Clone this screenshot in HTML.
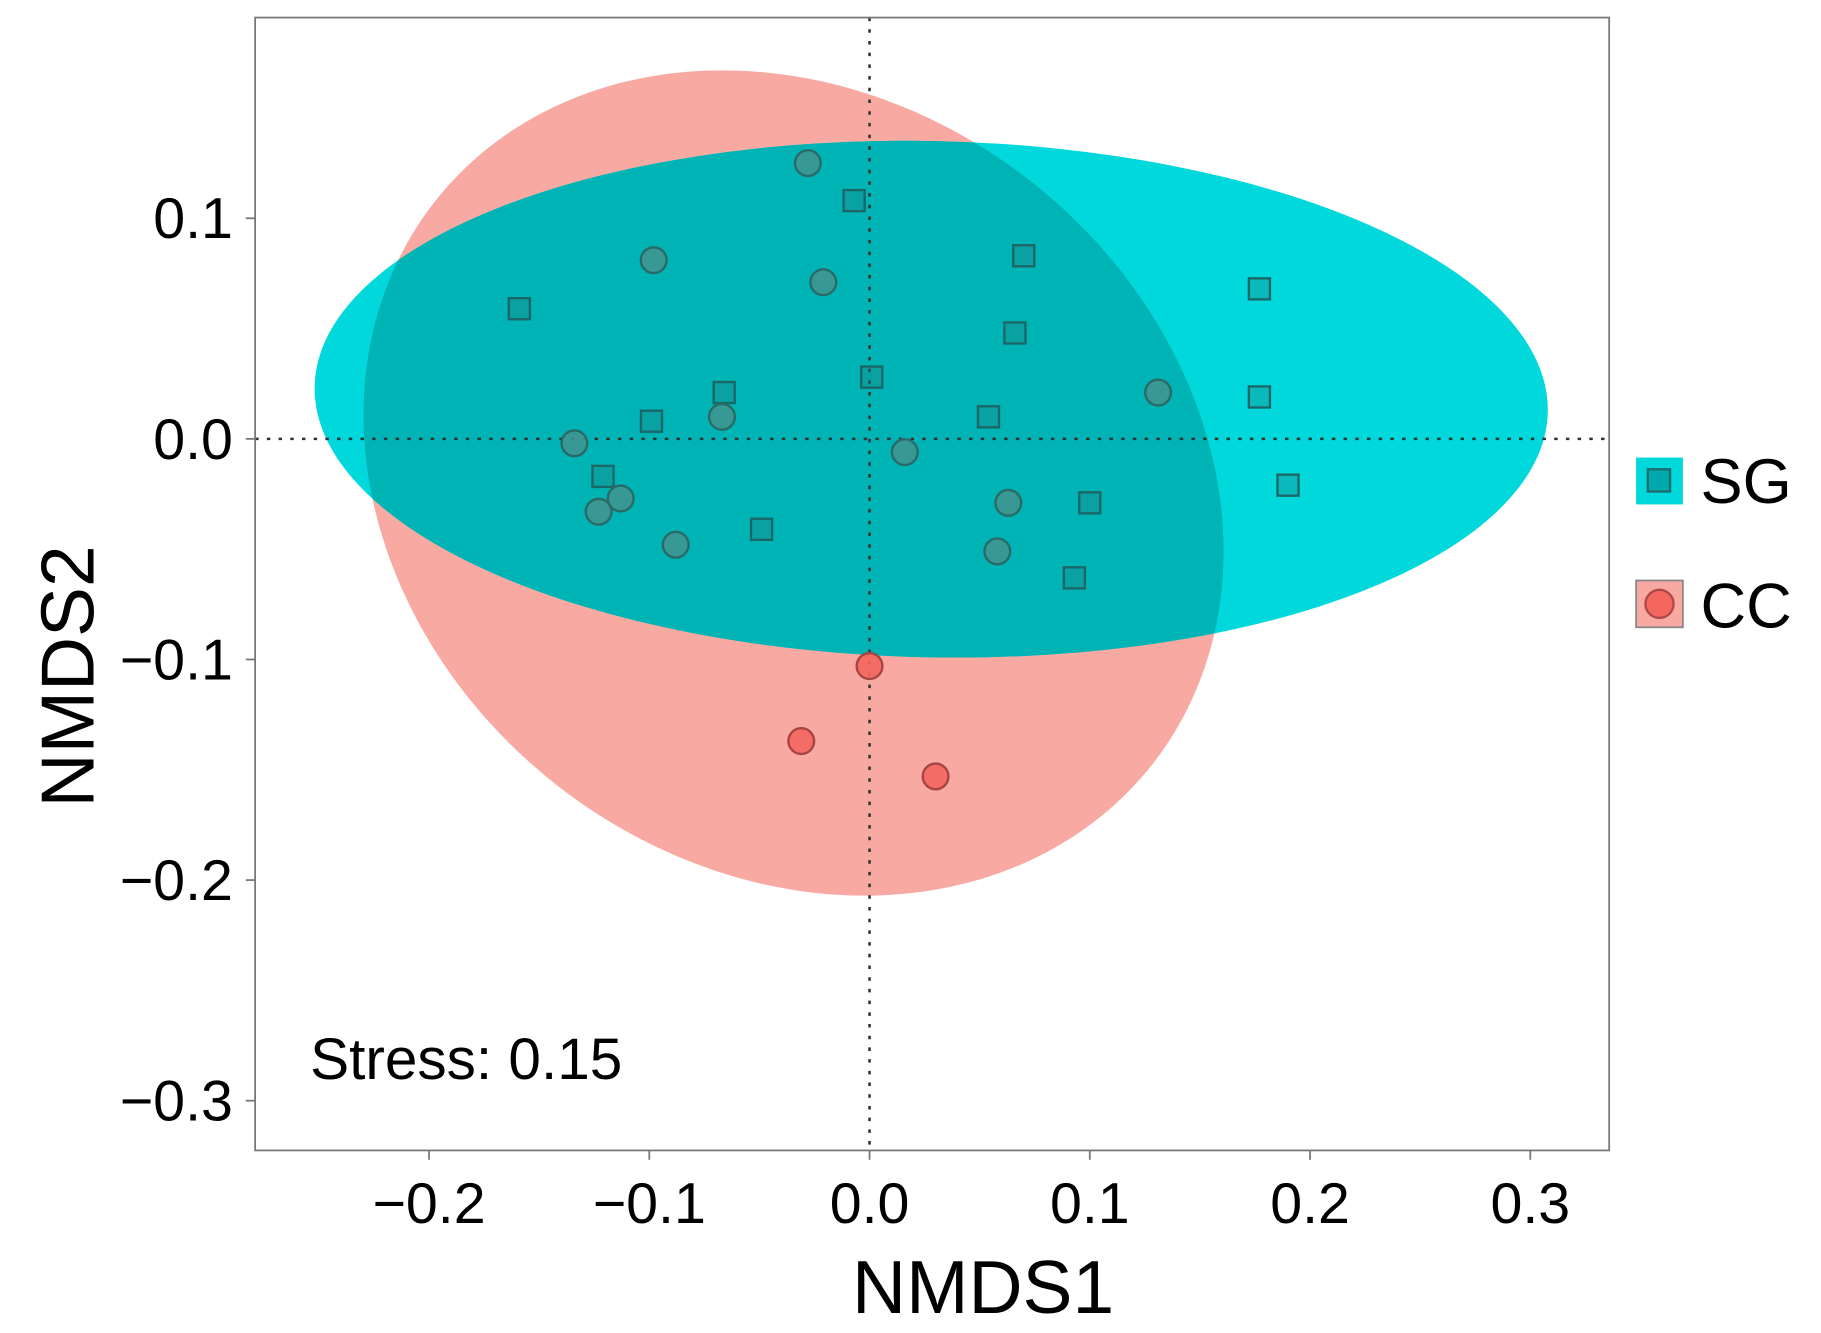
<!DOCTYPE html>
<html><head><meta charset="utf-8"><style>
html,body{margin:0;padding:0;background:#fff;}
svg{display:block;font-family:"Liberation Sans",Arial,sans-serif;}
</style></head><body>
<svg id="chart" width="1821" height="1333" viewBox="0 0 1556 1139" xmlns="http://www.w3.org/2000/svg">
<defs><clipPath id="sgclip"><ellipse id="sgclipE"/></clipPath><clipPath id="panel"><rect x="218" y="15" width="1157" height="968"/></clipPath></defs>
<g id="plot" clip-path="url(#panel)"></g>
<rect x="218" y="15" width="1157" height="968" fill="none" stroke="#777" stroke-width="1.5"/>
<g id="axes"></g>
<text x="840" y="1122" font-size="64" text-anchor="middle">NMDS1</text>
<text transform="translate(80,578) rotate(-90)" font-size="64" text-anchor="middle">NMDS2</text>
<text x="265" y="922" font-size="50">Stress: 0.15</text>
<g>
<g>
<rect x="1398" y="391" width="40" height="40" fill="#00D8DC"/>
<rect x="1408" y="401" width="19" height="19" fill="#00a9ab" stroke="#1d6d6d" stroke-width="2"/>
<text x="1453" y="430" font-size="54">SG</text></g>
<g>
<rect x="1398" y="496" width="40" height="40" fill="#F8A9A2" stroke="#888" stroke-width="1.5"/>
<circle cx="1418" cy="516" r="12" fill="#F4675E" stroke="#b04848" stroke-width="2"/>
<text x="1453" y="536" font-size="54">CC</text></g>
</g>
</svg>
<script>
const xTicks=[-0.2,-0.1,0.0,0.1,0.2,0.3];
const xTickLabels=["\u22120.2","\u22120.1","0.0","0.1","0.2","0.3"];
const yTicks=[0.1,0.0,-0.1,-0.2,-0.3];
const yTickLabels=["0.1","0.0","\u22120.1","\u22120.2","\u22120.3"];
const sgX=[-0.159,-0.007,0.070,0.177,0.066,0.177,0.001,-0.066,-0.099,0.054,-0.121,0.190,0.100,-0.049,0.093];
const sgY=[0.059,0.108,0.083,0.068,0.048,0.019,0.028,0.021,0.008,0.010,-0.017,-0.021,-0.029,-0.041,-0.063];
const ccX=[-0.028,-0.098,-0.021,0.131,-0.067,-0.134,0.016,-0.113,-0.123,0.063,-0.088,0.058,0.000,-0.031,0.030];
const ccY=[0.125,0.081,0.071,0.021,0.010,-0.002,-0.006,-0.027,-0.033,-0.029,-0.048,-0.051,-0.103,-0.137,-0.153];
// ellipses: center x, center y, semi-axis x, semi-axis y, rotation deg
const sgEllipse=[0.028,0.018,0.280,0.117,1.2];
const ccEllipse=[-0.0345,-0.020,0.207,0.174,38];

const NS="http://www.w3.org/2000/svg";
const sx=v=>743+v*1882;
const sy=v=>375-v*1885;
function mk(tag,attrs,parent){const e=document.createElementNS(NS,tag);for(const k in attrs)e.setAttribute(k,attrs[k]);parent.appendChild(e);return e;}
const plot=document.getElementById('plot');
const axes=document.getElementById('axes');
function ellAttrs(E){return {cx:sx(E[0]),cy:sy(E[1]),rx:E[2]*1882,ry:E[3]*1885,transform:`rotate(${E[4]} ${sx(E[0])} ${sy(E[1])})`};}
let e;
e=mk('ellipse',Object.assign(ellAttrs(ccEllipse),{fill:'#F8A9A2'}),plot);


e=mk('ellipse',Object.assign(ellAttrs(sgEllipse),{fill:'#00D8DC'}),plot);


const ce=document.getElementById('sgclipE');
const sa=ellAttrs(sgEllipse);for(const k in sa)ce.setAttribute(k,sa[k]);
const og=mk('g',{'clip-path':'url(#sgclip)'},plot);
e=mk('ellipse',Object.assign(ellAttrs(ccEllipse),{fill:'#00B3B4'}),og);


e=mk('line',{x1:sx(0),x2:sx(0),y1:15,y2:983,stroke:'#333','stroke-width':2.2,'stroke-dasharray':'3 7'},plot);


e=mk('line',{x1:218,x2:1375,y1:sy(0),y2:sy(0),stroke:'#333','stroke-width':2.2,'stroke-dasharray':'3 7'},plot);


for(let i=0;i<sgX.length;i++){
  const x=sx(sgX[i]),y=sy(sgY[i]);
  e=mk('rect',{x:x-9,y:y-9,width:18,height:18,fill:'#1a8080','fill-opacity':0.35,stroke:'#1d6666','stroke-width':2},plot);
  
  
}
for(let i=0;i<ccX.length;i++){
  const x=sx(ccX[i]),y=sy(ccY[i]);
  const inSg=(()=>{const E=sgEllipse;const dx=(ccX[i]-E[0])/E[2],dy=(ccY[i]-E[1])/E[3];return dx*dx+dy*dy<1;})();
  e=mk('circle',{cx:x,cy:y,r:11,fill:inSg?'#3d9590':'#F2665D','fill-opacity':0.9,stroke:inSg?'#2a6a66':'#a84444','stroke-width':2},plot);
  
  
}
xTicks.forEach((v,i)=>{
  mk('line',{x1:sx(v),x2:sx(v),y1:983,y2:991,stroke:'#777','stroke-width':1.5},axes);
  e=mk('text',{x:sx(v),y:1045,'font-size':49,'text-anchor':'middle'},axes);
  e.textContent=xTickLabels[i];
  
  
});
yTicks.forEach((v,i)=>{
  mk('line',{x1:210,x2:218,y1:sy(v),y2:sy(v),stroke:'#777','stroke-width':1.5},axes);
  e=mk('text',{x:199,y:sy(v)+17,'font-size':49,'text-anchor':'end'},axes);
  e.textContent=yTickLabels[i];
  
  
});
</script>
</body></html>
